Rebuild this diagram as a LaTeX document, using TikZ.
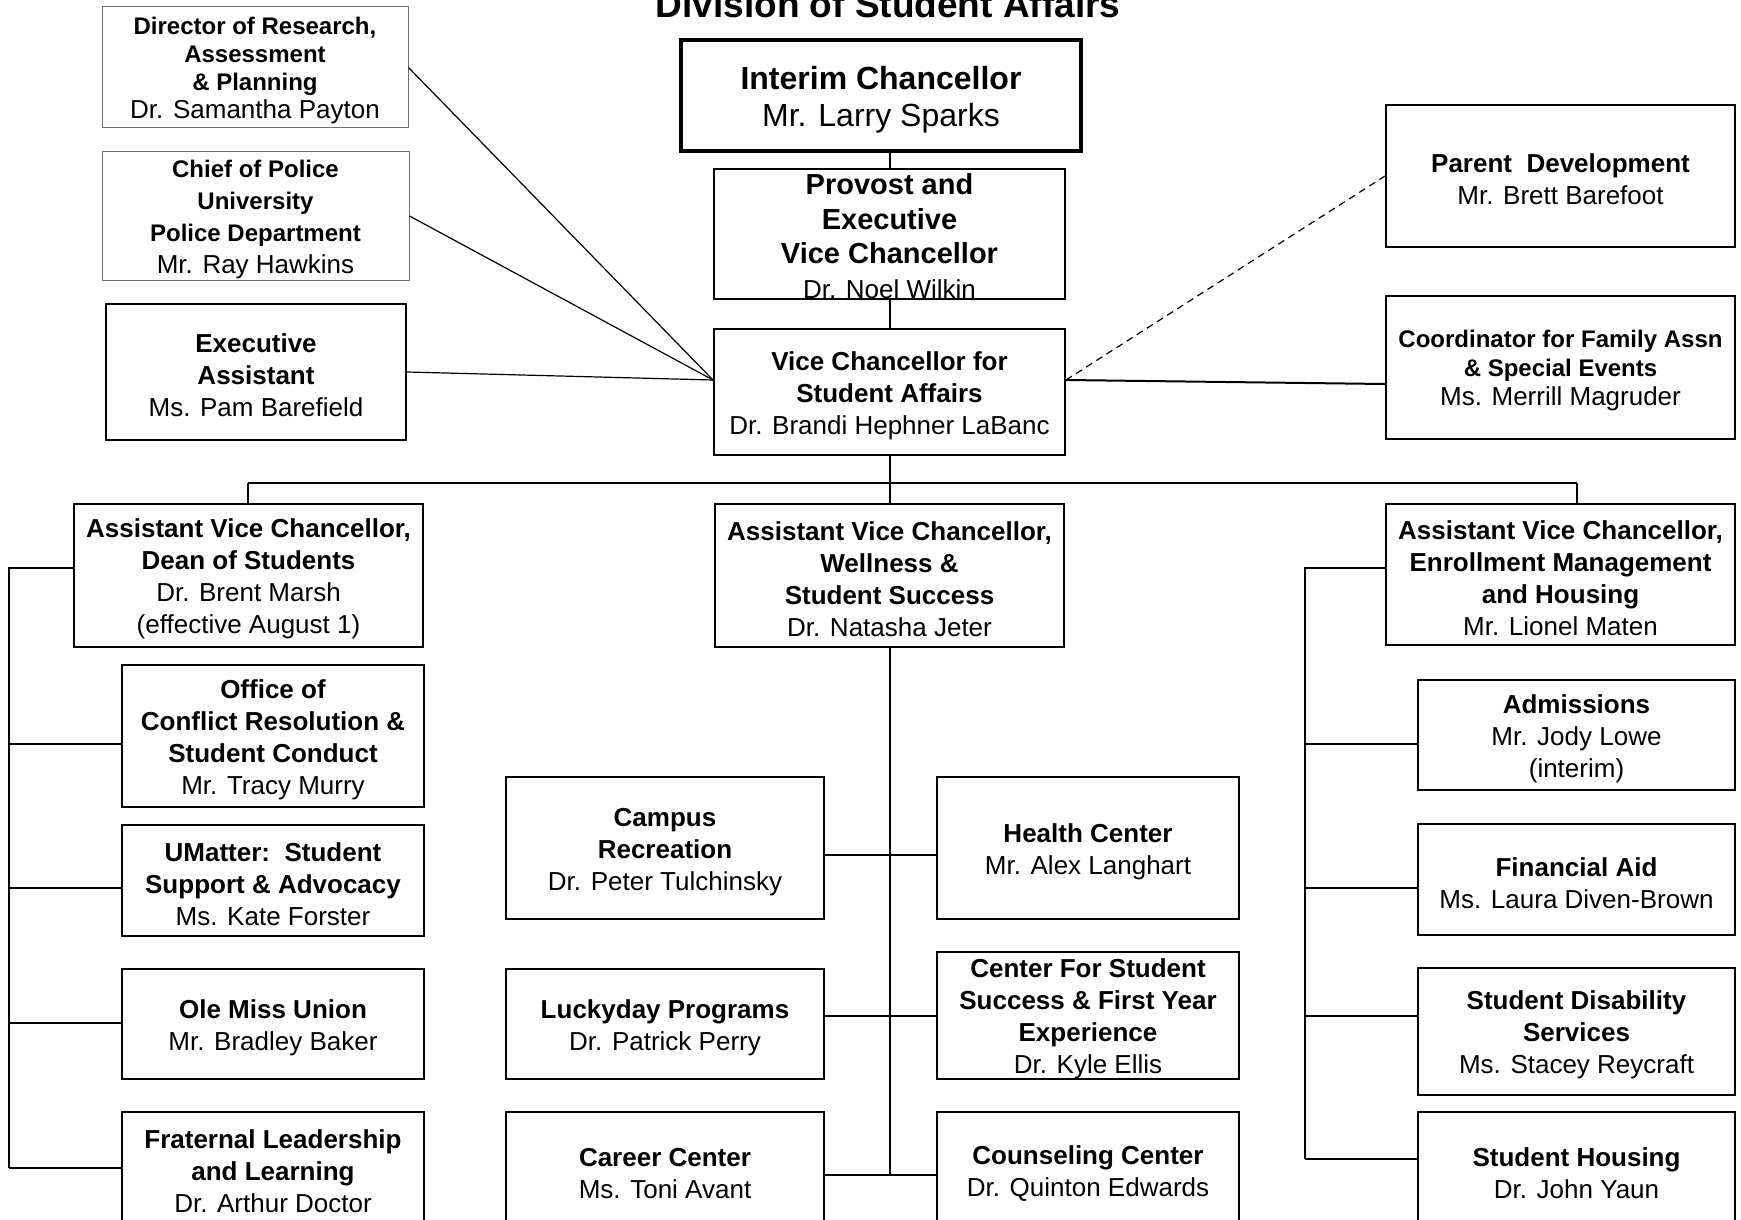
\documentclass[tikz,border=0pt]{standalone}
\usepackage{fontspec}
\setmainfont{Liberation Sans}
\usepackage{xcolor}
\definecolor{staffgray}{RGB}{110,110,110}
\newcommand{\topgap}[1][1em]{\rule{0pt}{#1}}

\begin{document}
\begin{tikzpicture}[x=1pt, y=-1pt,
    box/.style={draw, line width=2pt, inner sep=0pt, align=center},
    unit/.style={box, font=\fontsize{26}{32}\selectfont},
    staff/.style={draw=staffgray, line width=1pt, inner sep=0pt, align=center, font=\fontsize{24}{28}\selectfont},
    link/.style={line width=2pt},
    diag/.style={line width=1.2pt}]

\useasboundingbox (0,0) rectangle (1741,1220);

\node[anchor=base, font=\fontsize{37}{44}\selectfont\bfseries] (title) at (888,18) {Division of Student Affairs};

\node[staff, minimum width=306pt, minimum height=121pt] (dir) at (255,67.5) {\topgap\textbf{Director of Research,}\\\textbf{Assessment}\\\textbf{\& Planning}\\{\fontsize{26}{28}\selectfont Dr. Samantha Payton}};
\node[staff, minimum width=307pt, minimum height=128pt, font=\fontsize{24}{32}\selectfont] (police) at (255.5,216) {\topgap\textbf{Chief of Police}\\\textbf{University}\\\textbf{Police Department}\\{\fontsize{26}{32}\selectfont Mr. Ray Hawkins}};
\node[unit, minimum width=300pt, minimum height=136pt] (exec) at (256,372) {\topgap\textbf{Executive}\\\textbf{Assistant}\\Ms. Pam Barefield};

\node[unit, line width=4pt, minimum width=400pt, minimum height=111pt, font=\fontsize{32}{37}\selectfont] (chanc) at (881,95.5) {\topgap\textbf{Interim Chancellor}\\Mr. Larry Sparks};
\node[box, minimum width=351pt, minimum height=130pt, font=\fontsize{29}{34.5}\selectfont] (prov) at (889.5,234) {\topgap[25pt]\textbf{Provost and}\\\textbf{Executive}\\\textbf{Vice Chancellor}\\{\fontsize{26}{34.5}\selectfont Dr. Noel Wilkin}};
\node[unit, minimum width=351pt, minimum height=126pt] (vc) at (889.5,392) {\topgap\textbf{Vice Chancellor for}\\\textbf{Student Affairs}\\Dr. Brandi Hephner LaBanc};

\node[unit, minimum width=349pt, minimum height=142pt] (parent) at (1560.5,176) {\topgap\textbf{Parent~~Development}\\Mr. Brett Barefoot};
\node[unit, minimum width=349pt, minimum height=143pt, font=\fontsize{24}{29}\selectfont] (coord) at (1560.5,367.5) {\topgap\textbf{Coordinator for Family Assn}\\\textbf{\& Special Events}\\{\fontsize{26}{29}\selectfont Ms. Merrill Magruder}};

\node[unit, minimum width=349pt, minimum height=143pt] (avcdean) at (248.5,575.5) {\topgap\textbf{Assistant Vice Chancellor,}\\\textbf{Dean of Students}\\Dr. Brent Marsh\\(effective August 1)};
\node[unit, minimum width=349pt, minimum height=143pt] (avcwell) at (889.5,575.5) {\topgap\textbf{Assistant Vice Chancellor,}\\\textbf{Wellness \&}\\\textbf{Student Success}\\Dr. Natasha Jeter};
\node[unit, minimum width=349pt, minimum height=141pt] (avcenroll) at (1560.5,574.5) {\topgap\textbf{Assistant Vice Chancellor,}\\\textbf{Enrollment Management}\\\textbf{and Housing}\\Mr. Lionel Maten};

\node[unit, minimum width=302pt, minimum height=142pt] (conflict) at (273,736) {\topgap\textbf{Office of}\\\textbf{Conflict Resolution \&}\\\textbf{Student Conduct}\\Mr. Tracy Murry};
\node[unit, minimum width=302pt, minimum height=111pt] (umatter) at (273,880.5) {\topgap\textbf{UMatter:~~Student}\\\textbf{Support \& Advocacy}\\Ms. Kate Forster};
\node[unit, minimum width=302pt, minimum height=110pt] (union) at (273,1024) {\topgap\textbf{Ole Miss Union}\\Mr. Bradley Baker};
\node[unit, minimum width=302pt, minimum height=112pt] (fraternal) at (273,1168) {\topgap\textbf{Fraternal Leadership}\\\textbf{and Learning}\\Dr. Arthur Doctor};

\node[unit, minimum width=318pt, minimum height=142pt] (campusrec) at (665,848) {\topgap\textbf{Campus}\\\textbf{Recreation}\\Dr. Peter Tulchinsky};
\node[unit, minimum width=302pt, minimum height=142pt] (health) at (1088,848) {\topgap\textbf{Health Center}\\Mr. Alex Langhart};
\node[unit, minimum width=318pt, minimum height=110pt] (lucky) at (665,1024) {\topgap\textbf{Luckyday Programs}\\Dr. Patrick Perry};
\node[unit, minimum width=302pt, minimum height=127pt] (css) at (1088,1015.5) {\topgap\textbf{Center For Student}\\\textbf{Success \& First Year}\\\textbf{Experience}\\Dr. Kyle Ellis};
\node[unit, minimum width=318pt, minimum height=116pt] (career) at (665,1170) {\topgap\textbf{Career Center}\\Ms. Toni Avant};
\node[unit, minimum width=302pt, minimum height=116pt] (counsel) at (1088,1170) {\topgap\textbf{Counseling Center}\\Dr. Quinton Edwards};

\node[unit, minimum width=317pt, minimum height=110pt] (admiss) at (1576.5,735) {\topgap\textbf{Admissions}\\Mr. Jody Lowe\\(interim)};
\node[unit, minimum width=317pt, minimum height=111pt] (finaid) at (1576.5,879.5) {\topgap\textbf{Financial Aid}\\Ms. Laura Diven-Brown};
\node[unit, minimum width=317pt, minimum height=127pt] (disab) at (1576.5,1031.5) {\topgap\textbf{Student Disability}\\\textbf{Services}\\Ms. Stacey Reycraft};
\node[unit, minimum width=317pt, minimum height=116pt] (housing) at (1576.5,1170) {\topgap\textbf{Student Housing}\\Dr. John Yaun};

\draw[link] (chanc.south -| prov.north) -- (prov.north);
\draw[link] (prov.south) -- (vc.north);

\coordinate (vcin) at ([yshift=12pt]vc.west);
\coordinate (vcout) at ([yshift=12pt]vc.east);
\draw[diag] (dir.east) -- (vcin);
\draw[diag] (police.east) -- (vcin);
\draw[diag] (exec.east) -- (vcin);
\draw[diag, dash pattern=on 7pt off 5pt] (vcout) -- (parent.west);
\draw[link] (vcout) -- ([yshift=-16.5pt]coord.west);

\coordinate (busL) at (248,483);
\coordinate (busR) at (1577,483);
\draw[link] (vc.south) -- (vc.south |- busL);
\draw[link] (busL) -- (busR);
\draw[link] (busL) -- (busL |- avcdean.north);
\draw[link] (vc.south |- busL) -- (avcwell.north);
\draw[link] (busR) -- (busR |- avcenroll.north);

\path ([yshift=-7pt]campusrec.east) coordinate (rowa);
\path ([yshift=8pt]lucky.east) coordinate (rowb);
\path ([yshift=-5pt]career.east) coordinate (rowc);
\draw[link] (rowa) -- (rowa -| health.west);
\draw[link] (rowb) -- (rowb -| css.west);
\draw[link] (rowc) -- (rowc -| counsel.west);
\draw[link] (avcwell.south) -- (avcwell.south |- rowc);

\coordinate (lspine) at (9,0);
\path ([yshift=7.5pt]avcdean.west) coordinate (deanport);
\foreach \n/\s in {conflict/-8, umatter/-7.5, union/1, fraternal/0} {
  \path ([yshift=\s pt]\n.west) coordinate (\n-in);
  \draw[link] (\n-in) -- (\n-in -| lspine);
}
\draw[link] (deanport) -- (deanport -| lspine) -- (fraternal-in -| lspine);

\coordinate (rspine) at (1305,0);
\path ([yshift=6.5pt]avcenroll.west) coordinate (enrollport);
\foreach \n/\s in {admiss/-9, finaid/-8.5, disab/15.5, housing/11} {
  \path ([yshift=\s pt]\n.west) coordinate (\n-in);
  \draw[link] (\n-in) -- (\n-in -| rspine);
}
\draw[link] (enrollport) -- (enrollport -| rspine) -- (housing-in -| rspine);

\end{tikzpicture}
\end{document}
